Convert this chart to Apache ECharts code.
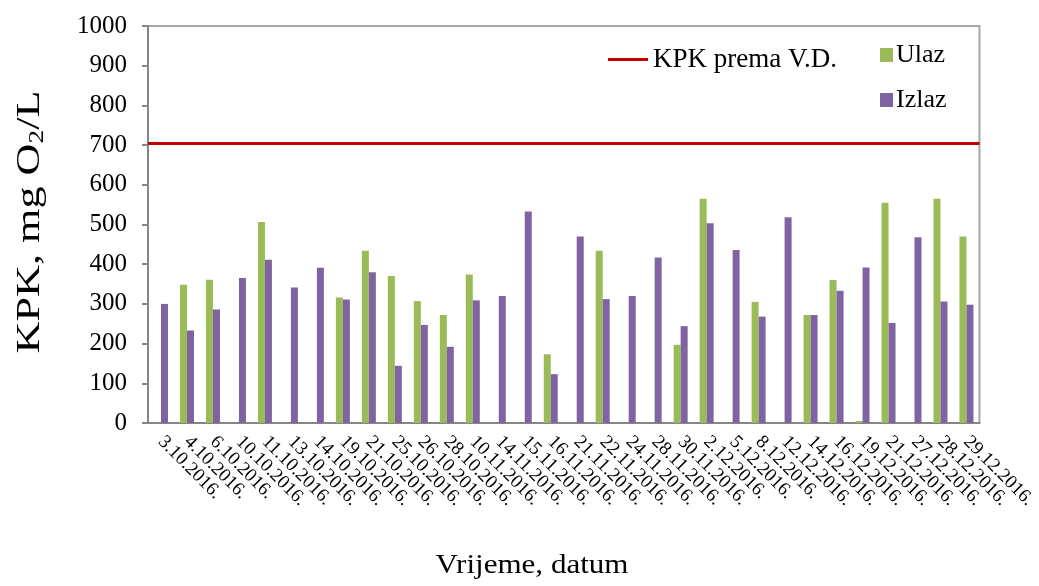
<!DOCTYPE html>
<html>
<head>
<meta charset="utf-8">
<script src="https://cdn.jsdelivr.net/npm/echarts@6/dist/echarts.min.js"></script>
<style>html,body{margin:0;padding:0;background:#fff;}#c{width:1039px;height:586px;}</style>
</head>
<body>
<div id="c"></div>
<script>
const categories = ['3.10.2016.','4.10.2016.','6.10.2016.','10.10.2016.','11.10.2016.','13.10.2016.','14.10.2016.','19.10.2016.','21.10.2016.','25.10.2016.','26.10.2016.','28.10.2016.','10.11.2016.','14.11.2016.','15.11.2016.','16.11.2016.','21.11.2016.','22.11.2016.','24.11.2016.','28.11.2016.','30.11.2016.','2.12.2016.','5.12.2016.','8.12.2016.','12.12.2016.','14.12.2016.','16.12.2016.','19.12.2016.','21.12.2016.','27.12.2016.','28.12.2016.','29.12.2016.'];
const ulaz = [null,348,361,null,506,null,null,316,434,370,307,272,374,null,null,173,null,434,null,null,197,565,null,305,null,272,360,5,555,null,565,470];
const izlaz = [300,233,286,365,411,341,391,311,380,144,247,192,309,320,533,123,470,312,320,417,244,503,436,268,518,272,333,392,252,468,306,298];
const limitValue = 705;
const yTicks = {min: 0, max: 1000, interval: 100};
const yTitle = 'KPK, mg O{sub|2}/L';
const xTitle = 'Vrijeme, datum';

const FONT = "'Liberation Serif','Times New Roman',serif";
const chart = echarts.init(document.getElementById('c'));
chart.setOption({
  animation: false,
  grid: {left: 148, right: 51, top: 26, bottom: 163, show: true, borderColor: '#A6A6A6', borderWidth: 2},
  legend: [
    {data: [{name: 'KPK prema V.D.', icon: 'rect'}], left: 608, top: 46, padding: 0, itemWidth: 40, itemHeight: 3, itemGap: 10,
     textStyle: {fontFamily: FONT, fontSize: 27, color: '#000'}},
    {data: [{name: 'Ulaz', icon: 'rect'}, {name: 'Izlaz', icon: 'rect'}], orient: 'vertical', left: 880, top: 42, padding: 0, itemWidth: 13, itemHeight: 14, itemGap: 19,
     textStyle: {fontFamily: FONT, fontSize: 26, color: '#000', padding: [0,0,0,-2]}}
  ],
  xAxis: {
    type: 'category', data: categories,
    axisLine: {lineStyle: {color: '#868686', width: 2}},
    axisTick: {length: 6, lineStyle: {color: '#868686', width: 2}},
    axisLabel: {rotate: -45, interval: 0, margin: 16, fontFamily: FONT, fontSize: 19, color: '#000'}
  },
  yAxis: {
    type: 'value', min: yTicks.min, max: yTicks.max, interval: yTicks.interval,
    splitLine: {show: false},
    axisLine: {show: true, lineStyle: {color: '#868686', width: 2}},
    axisTick: {show: true, length: 6, lineStyle: {color: '#868686', width: 2}},
    axisLabel: {margin: 21, fontFamily: FONT, fontSize: 25, color: '#000', formatter: v => String(v)}
  },
  graphic: [
    {type: 'text', x: 30, y: 222, rotation: Math.PI / 2, scaleX: 1.3,
     style: {text: yTitle, fontFamily: FONT, fontSize: 34, fontWeight: 'normal', fill: '#000', align: 'center', verticalAlign: 'middle',
       rich: {sub: {fontFamily: FONT, fontSize: 21, fontWeight: 'normal', fill: '#000', padding: [14,0,0,0]}}}},
    {type: 'text', x: 532, y: 566, scaleX: 1.15,
     style: {text: xTitle, fontFamily: FONT, fontSize: 27, fontWeight: 'normal', fill: '#000', align: 'center', verticalAlign: 'middle'}}
  ],
  series: [
    {name: 'KPK prema V.D.', type: 'line', data: [], itemStyle: {color: '#C00000'}, lineStyle: {color: '#C00000'},
     markLine: {silent: true, symbol: 'none', label: {show: false}, lineStyle: {color: '#C00000', width: 3, type: 'solid'},
       data: [{yAxis: limitValue}]}},
    {name: 'Ulaz', type: 'bar', data: ulaz, barWidth: 7, barGap: '0%', itemStyle: {color: '#9BBB59'}},
    {name: 'Izlaz', type: 'bar', data: izlaz, barWidth: 7, barGap: '0%', itemStyle: {color: '#8064A2'}}
  ]
});
</script>
</body>
</html>
